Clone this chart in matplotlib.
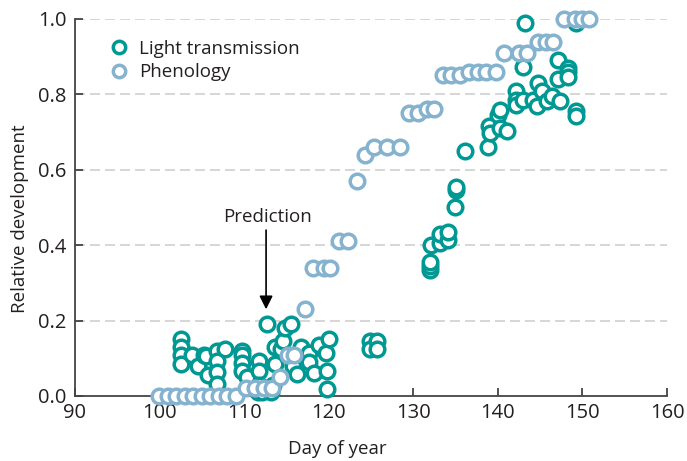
import matplotlib
matplotlib.use('Agg')
import matplotlib.pyplot as plt

# Light transmission (teal)
light_day = [102.6, 102.6, 102.6, 102.6, 103.9, 104.6, 105.3, 105.5, 105.7,
             106.8, 106.8, 106.8, 106.8, 107.8,
             109.7, 109.7, 109.7, 109.7, 110.4,
             111.8, 111.8, 111.8, 111.6, 112.1, 112.6, 113.2, 113.4,
             112.7, 113.6, 113.6, 114.4, 114.6, 114.8, 115.6, 115.8, 116.3, 116.7,
             117.7, 117.7, 118.3, 118.8, 119.7, 120.0, 119.8, 119.8,
             124.9, 124.9, 125.7, 125.7,
             132.0, 132.0, 132.0, 132.1, 133.2, 133.1, 134.1, 134.1, 134.9, 135.05, 135.05,
             136.1, 138.8, 138.9, 139.1, 140.0, 140.2, 140.3, 141.1,
             142.2, 142.2, 142.2, 143.0, 143.0, 143.2,
             144.2, 144.6, 144.8, 145.2, 145.8, 146.4, 147.3,
             147.1, 147.1, 148.3, 148.3, 148.3, 149.2, 149.2, 149.2]
light_val = [0.15, 0.13, 0.11, 0.085, 0.11, 0.08, 0.11, 0.105, 0.055,
             0.12, 0.093, 0.063, 0.033, 0.125,
             0.12, 0.11, 0.087, 0.067, 0.05,
             0.093, 0.067, 0.03, 0.01, 0.01, 0.02, 0.01, 0.03,
             0.19, 0.13, 0.085, 0.125, 0.145, 0.18, 0.19, 0.08, 0.058, 0.13,
             0.115, 0.09, 0.06, 0.135, 0.115, 0.15, 0.067, 0.018,
             0.145, 0.125, 0.145, 0.125,
             0.335, 0.345, 0.355, 0.40, 0.405, 0.43, 0.415, 0.435, 0.50, 0.545, 0.555,
             0.65, 0.66, 0.715, 0.697, 0.746, 0.759, 0.71, 0.704,
             0.81, 0.786, 0.772, 0.786, 0.872, 0.99,
             0.786, 0.77, 0.83, 0.808, 0.781, 0.796, 0.782,
             0.892, 0.84, 0.87, 0.86, 0.845, 0.755, 0.742, 0.99]

# Phenology (light blue)
phen_day = [100, 101, 102, 103, 104, 105, 106, 107, 108, 109,
            110.2, 111.3, 112.4, 113.3,
            114.2, 115.2, 115.9, 117.2,
            118.2, 119.4, 120.2, 121.2, 122.3, 123.3, 124.3,
            125.4, 126.9, 128.4,
            129.5, 130.6, 131.6, 132.4,
            133.5, 134.5, 135.5, 136.6, 137.6, 138.6, 139.8,
            140.7, 142.5, 143.5,
            144.8, 145.7, 146.5,
            147.8, 149.1, 149.9, 150.8]
phen_val = [0, 0, 0, 0, 0, 0, 0, 0, 0, 0,
            0.02, 0.02, 0.02, 0.02,
            0.05, 0.11, 0.11, 0.23,
            0.34, 0.34, 0.34, 0.41, 0.41, 0.57, 0.64,
            0.66, 0.66, 0.66,
            0.75, 0.75, 0.76, 0.76,
            0.85, 0.85, 0.85, 0.86, 0.86, 0.86, 0.86,
            0.91, 0.91, 0.91,
            0.94, 0.94, 0.94,
            1.0, 1.0, 1.0, 1.0]

teal = '#009893'
lblue = '#85b3cf'
dark = '#231f20'

plt.rcParams['font.family'] = ['Open Sans', 'DejaVu Sans']
plt.rcParams['text.color'] = dark

fig = plt.figure(figsize=(6.87, 4.61), dpi=100)
ax = fig.add_axes([0.109, 0.141, 0.862, 0.818])

ax.plot(light_day, light_val, 'o', ms=10.5, mew=2.5, mec=teal, mfc='white',
        clip_on=False, zorder=3, label='Light transmission')
ax.plot(phen_day, phen_val, 'o', ms=10.5, mew=2.5, mec=lblue, mfc='white',
        clip_on=False, zorder=4, label='Phenology')

ax.set_xlim(90, 160)
ax.set_ylim(0, 1)
ax.set_xticks(range(90, 161, 10))
ax.set_yticks([0, 0.2, 0.4, 0.6, 0.8, 1.0])
ax.set_yticklabels(['0.0', '0.2', '0.4', '0.6', '0.8', '1.0'])
for y in [0.2, 0.4, 0.6, 0.8, 1.0]:
    ax.axhline(y, color='#d0d0d0', lw=1.2, ls=(0, (6, 3)), zorder=1)

for s in ['top', 'right']:
    ax.spines[s].set_visible(False)
for s in ['left', 'bottom']:
    ax.spines[s].set_color('#444444')
    ax.spines[s].set_linewidth(1.3)
ax.tick_params(direction='in', length=6, width=1.3, color='#444444',
               labelcolor=dark, labelsize=14.5)
ax.tick_params(axis='x', pad=5)
ax.tick_params(axis='y', pad=6)

ax.set_xlabel('Day of year', color=dark, fontsize=13.5, va='top')
ax.set_ylabel('Relative development', color=dark, fontsize=13.5)
ax.xaxis.set_label_coords(0.443, -0.118)
ax.yaxis.set_label_coords(-0.078, 0.47)

# prediction arrow
ax.annotate('', xy=(112.6, 0.23), xytext=(112.6, 0.44),
            arrowprops=dict(arrowstyle='-|>', color='black', lw=1.2,
                            mutation_scale=20, shrinkA=0, shrinkB=0))
ax.text(112.8, 0.475, 'Prediction', ha='center', va='center', fontsize=13.5,
        color=dark)

leg = ax.legend(loc='upper left', bbox_to_anchor=(0.02, 0.98), frameon=False,
                handletextpad=0.1, borderaxespad=0.3, labelspacing=0.3,
                markerscale=0.85, fontsize=13.5)

fig.savefig('out.png', dpi=100)
